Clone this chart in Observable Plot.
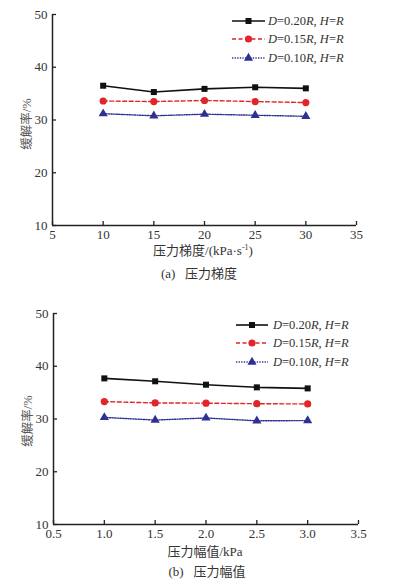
<!DOCTYPE html>
<html>
<head>
<meta charset="utf-8">
<script src="https://cdn.jsdelivr.net/npm/d3@7"></script>
<script src="https://cdn.jsdelivr.net/npm/@observablehq/plot@0.6"></script>
<style>
  html, body { margin: 0; padding: 0; background: #fff; }
  #wrap { position: relative; width: 400px; height: 583px; overflow: hidden;
    font-family: "Liberation Serif", "Times New Roman", "Noto Sans CJK SC", serif; color: #333; }
  .panel { position: absolute; left: 0; }
  .cap { position: absolute; font-size: 13px; white-space: nowrap; transform: translate(-50%, -50%); color: #333; }
  .ylab { position: absolute; font-size: 12.5px; white-space: nowrap; color: #555;
    transform: translate(-50%, -50%) rotate(-90deg); }
  sup { font-size: 8px; vertical-align: 5px; line-height: 0; }
  svg text { font-family: "Liberation Serif", "Times New Roman", serif; }
</style>
</head>
<body>
<div id="wrap">
  <div id="pa" class="panel" style="top:0px"></div>
  <div id="pb" class="panel" style="top:290px"></div>
  <div class="ylab" style="left:25px; top:124px">缓解率/%</div>
  <div class="ylab" style="left:26px; top:421px">缓解率/%</div>
  <div class="cap" style="left:203px; top:249px">压力梯度/(kPa·s<sup>-1</sup>)</div>
  <div class="cap" style="left:199px; top:272px">(a)&nbsp;&nbsp;&nbsp;压力梯度</div>
  <div class="cap" style="left:205px; top:550px">压力幅值/kPa</div>
  <div class="cap" style="left:207px; top:570px">(b)&nbsp;&nbsp;&nbsp;压力幅值</div>
</div>
<script>
// ---- data ----
const seriesNames = ["D=0.20R, H=R", "D=0.15R, H=R", "D=0.10R, H=R"];
const seriesColors = ["#111111", "#e0262b", "#2e3192"];
const seriesDash = [null, "4,2.5", "1.3,1.3"];
const seriesSymbols = ["square", "circle", "triangle"];

const gradX = [10, 15, 20, 25, 30];
const gradD20 = [36.5, 35.3, 35.9, 36.2, 36.0];
const gradD15 = [33.6, 33.5, 33.7, 33.5, 33.3];
const gradD10 = [31.2, 30.8, 31.1, 30.9, 30.7];
const gradTicks = [5, 10, 15, 20, 25, 30, 35];

const ampX = [1.0, 1.5, 2.0, 2.5, 3.0];
const ampD20 = [37.7, 37.15, 36.5, 36.0, 35.8];
const ampD15 = [33.3, 33.05, 33.0, 32.9, 32.85];
const ampD10 = [30.3, 29.8, 30.2, 29.65, 29.7];
const ampTicks = [0.5, 1.0, 1.5, 2.0, 2.5, 3.0, 3.5];

const yTicks = [10, 20, 30, 40, 50];

const SERIF = '"Liberation Serif", "Times New Roman", serif';

function toRows(xs, seriesList) {
  const rows = [];
  seriesList.forEach((vals, si) => xs.forEach((x, i) => rows.push({x, y: vals[i], s: si})));
  return rows;
}

function makePanel(cfg) {
  const rows = toRows(cfg.xs, cfg.series);
  const marks = [];
  seriesNames.forEach((name, si) => {
    const d = rows.filter(r => r.s === si);
    marks.push(Plot.line(d, {x: "x", y: "y", stroke: seriesColors[si], strokeWidth: si === 0 ? 1.6 : 1.4,
      strokeDasharray: seriesDash[si]}));
    marks.push(Plot.dot(d, {x: "x", y: "y", fill: seriesColors[si], stroke: "none",
      symbol: seriesSymbols[si], r: si === 0 ? 3.4 : si === 1 ? 3.6 : 3.4}));
  });
  const chart = Plot.plot({
    width: 400, height: cfg.height,
    marginLeft: cfg.ml, marginRight: cfg.mr, marginTop: cfg.mt, marginBottom: cfg.mb,
    style: {fontFamily: SERIF, fontSize: "13px", color: "#333", background: "#fff"},
    x: {domain: [cfg.xTicks[0], cfg.xTicks[cfg.xTicks.length - 1]]},
    y: {domain: [yTicks[0], yTicks[yTicks.length - 1]]},
    marks: [
      Plot.axisX({ticks: cfg.xTicks, tickFormat: cfg.fmt, tickSize: -4, tickPadding: 8, label: null,
        stroke: "#222", strokeWidth: 1.3, fontFamily: SERIF, fontSize: 13}),
      Plot.axisY({ticks: yTicks, tickSize: -4, tickPadding: 9, label: null,
        stroke: "#222", strokeWidth: 1.3, fontFamily: SERIF, fontSize: 13}),
      Plot.ruleX([cfg.xTicks[0]], {stroke: "#222", strokeWidth: 1.5}),
      Plot.ruleY([yTicks[0]], {stroke: "#222", strokeWidth: 1.5}),
      ...marks
    ]
  });
  // legend
  const svg = d3.select(chart);
  const lg = cfg.legend;
  const sym = {square: d3.symbolSquare, circle: d3.symbolCircle, triangle: d3.symbolTriangle};
  seriesNames.forEach((name, si) => {
    const y = lg.rows[si];
    const g = svg.append("g");
    g.append("line").attr("x1", lg.x1).attr("x2", lg.x2).attr("y1", y).attr("y2", y)
      .attr("stroke", seriesColors[si]).attr("stroke-width", si === 0 ? 1.6 : 1.4)
      .attr("stroke-dasharray", seriesDash[si]);
    const r = si === 1 ? 3.6 : 3.4;
    g.append("path").attr("d", d3.symbol(sym[seriesSymbols[si]], Math.PI * r * r)())
      .attr("transform", `translate(${(lg.x1 + lg.x2) / 2},${y})`).attr("fill", seriesColors[si]);
    const t = g.append("text").attr("x", lg.tx).attr("y", y).attr("dy", "0.35em")
      .attr("text-anchor", "start").attr("font-family", SERIF)
      .attr("font-size", 12.5).attr("fill", "#333");
    const parts = name.match(/[A-Z]|[^A-Z]+/g);
    parts.forEach(p => {
      const ts = t.append("tspan").text(p);
      if (/^[A-Z]$/.test(p)) ts.attr("font-style", "italic");
    });
  });
  return chart;
}

document.getElementById("pa").appendChild(makePanel({
  xs: gradX, series: [gradD20, gradD15, gradD10], xTicks: gradTicks, fmt: d => String(d),
  height: 260, ml: 52, mr: 44, mt: 14, mb: 35,
  legend: {x1: 232, x2: 265, tx: 268, rows: [21, 39, 58]}
}));
document.getElementById("pb").appendChild(makePanel({
  xs: ampX, series: [ampD20, ampD15, ampD10], xTicks: ampTicks, fmt: d => d.toFixed(1),
  height: 268, ml: 53, mr: 42, mt: 23, mb: 34,
  legend: {x1: 236, x2: 268, tx: 273, rows: [35, 53, 72]}
}));
</script>
</body>
</html>
